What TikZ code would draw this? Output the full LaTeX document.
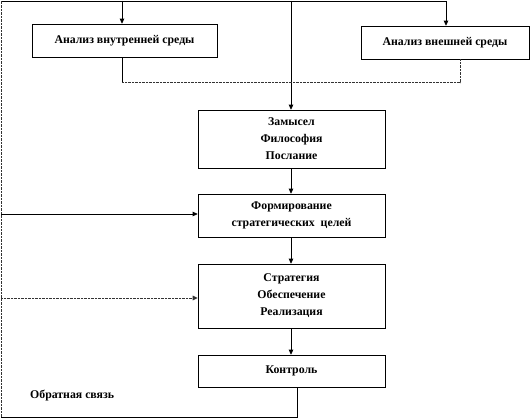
\documentclass[tikz,border=0pt]{standalone}
\usepackage{fontspec}
\setmainfont{Liberation Serif}
\usetikzlibrary{arrows.meta,calc}
\begin{document}
\begin{tikzpicture}[x=1pt,y=-1pt,
  box/.style={draw=black,line width=0.6pt,fill=white,align=center,inner sep=0pt,
    font=\bfseries\fontsize{11.8}{17}\selectfont},
  arr/.style={-{Triangle[length=5pt,width=4.5pt]},line width=0.7pt},
  ln/.style={line width=0.7pt},
  dln/.style={line width=1pt,black!80,dash pattern=on 0.7pt off 0.7pt}]
\useasboundingbox (0,0) rectangle (532,419);
\node[box,minimum width=185pt,minimum height=33pt] (b1) at (124.5,40.5) {Анализ внутренней среды};
\node[box,minimum width=168pt,minimum height=33pt] (b2) at (445,42.5) {Анализ внешней среды};
\node[box,minimum width=187pt,minimum height=58pt] (b3) at (291.5,139) {Замысел\\Философия\\Послание};
\node[box,minimum width=187pt,minimum height=43pt] (b4) at (291.5,215.5) {Формирование\\стратегических\ \ целей};
\node[box,minimum width=187pt,minimum height=64pt] (b5) at (291.5,296) {Стратегия\\Обеспечение\\Реализация};
\node[box,minimum width=187pt,minimum height=32pt] (b6) at (291.5,371) {Контроль};
\node[font=\bfseries\fontsize{11.8}{14}\selectfont,anchor=west,inner sep=0pt] (fb) at (30,396) {Обратная связь};
\coordinate (tl) at (1,1);
\coordinate (tr) at (446,1);
\coordinate (t1) at (122,1);
\coordinate (t3) at (291,1);
\coordinate (bl) at (1,417);
\coordinate (bm) at (297,417);
\coordinate (l4) at (1,214);
\coordinate (l5) at (1,298);
\coordinate (r1) at (122,83);
\coordinate (r2) at (460,83);
% top distribution
\draw[ln] (tl) -- (tr);
\draw[arr] (t1) -- (t1 |- b1.north);
\draw[arr] (tr) -- (tr |- b2.north);
\draw[arr] (t3) -- (t3 |- b3.north);
% return from analyses
\draw[ln] (r1 |- b1.south) -- (r1);
\draw[dln] (r1) -- (r2) -- (r2 |- b2.south);
% main column
\draw[arr] (b3.south -| t3) -- (b4.north -| t3);
\draw[arr] (b4.south -| t3) -- (b5.north -| t3);
\draw[arr] (b5.south -| t3) -- (b6.north -| t3);
% feedback
\draw[ln] (b6.south -| bm) -- (bm) -- (bl);
\draw[dln] (bl) -- (tl);
\draw[arr] (l4) -- (l4 -| b4.west);
\draw[arr,dln] (l5) -- (l5 -| b5.west);
\end{tikzpicture}
\end{document}
